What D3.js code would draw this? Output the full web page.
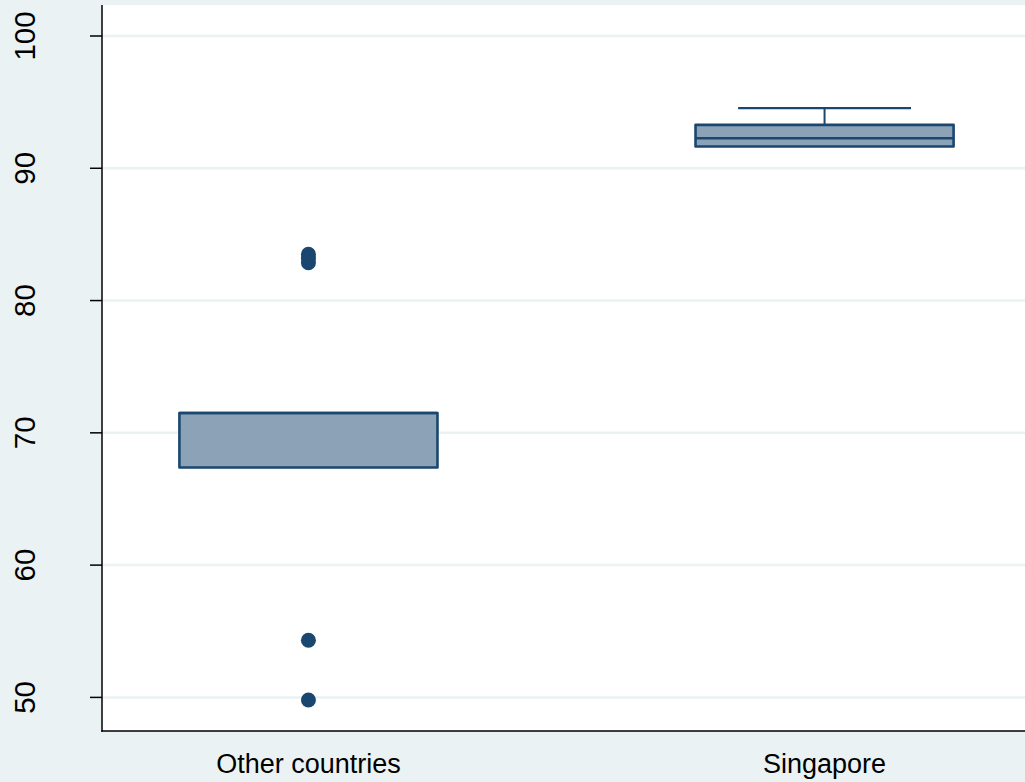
<!DOCTYPE html>
<html>
<head>
<meta charset="utf-8">
<script src="https://cdn.jsdelivr.net/npm/d3@7"></script>
<style>
  html, body { margin: 0; padding: 0; background: #EAF2F3; }
  svg { display: block; }
  text { font-family: "Liberation Sans", Arial, sans-serif; fill: #000; }
</style>
</head>
<body>
<svg id="chart" width="1025" height="782"></svg>
<script>
// Box-plot summary per group
const categories = ["Other countries", "Singapore"];
const q1Values = [67.38, 91.65];
const medianValues = [71.5, 92.27];
const q3Values = [71.5, 93.28];
const lowerAdjacent = [67.38, 91.65];
const upperAdjacent = [71.5, 94.54];
// Points beyond the adjacent values
const outlierGroups = ["Other countries", "Other countries", "Other countries", "Other countries", "Other countries"];
const outlierValues = [83.5, 83.2, 82.86, 54.32, 49.8];
const yTicks = [50, 60, 70, 80, 90, 100];

const W = 1025, H = 782;
const plot = { left: 102, right: 1025, top: 5, bottom: 731 };

const svg = d3.select("#chart");

const y = d3.scaleLinear().domain([50, 100]).range([697.4, 36]);
const x = d3.scalePoint().domain(categories).range([102, 1031]).padding(0.4);
const step = x.step();
const boxW = step * 0.5;
const capW = boxW * 0.67;

const navy = "#1A476F";
const fill = "#8CA2B7";

// white plot region
svg.append("rect")
  .attr("x", plot.left).attr("y", plot.top)
  .attr("width", plot.right - plot.left).attr("height", plot.bottom - plot.top)
  .attr("fill", "#fff");

// horizontal grid
svg.append("g").selectAll("line").data(yTicks).join("line")
  .attr("x1", plot.left).attr("x2", plot.right)
  .attr("y1", d => y(d)).attr("y2", d => y(d))
  .attr("stroke", "#EAF2F3").attr("stroke-width", 2.5);

const groups = categories.map((c, i) => ({
  cat: c, q1: q1Values[i], med: medianValues[i], q3: q3Values[i],
  lo: lowerAdjacent[i], hi: upperAdjacent[i]
}));

const g = svg.append("g");

// whiskers and caps
groups.forEach(d => {
  const cx = x(d.cat);
  if (d.hi > d.q3) {
    g.append("line").attr("x1", cx).attr("x2", cx)
      .attr("y1", y(d.q3)).attr("y2", y(d.hi))
      .attr("stroke", navy).attr("stroke-width", 2);
    g.append("line").attr("x1", cx - capW / 2).attr("x2", cx + capW / 2)
      .attr("y1", y(d.hi)).attr("y2", y(d.hi))
      .attr("stroke", navy).attr("stroke-width", 2.2);
  }
  if (d.lo < d.q1) {
    g.append("line").attr("x1", cx).attr("x2", cx)
      .attr("y1", y(d.q1)).attr("y2", y(d.lo))
      .attr("stroke", navy).attr("stroke-width", 2);
    g.append("line").attr("x1", cx - capW / 2).attr("x2", cx + capW / 2)
      .attr("y1", y(d.lo)).attr("y2", y(d.lo))
      .attr("stroke", navy).attr("stroke-width", 2.2);
  }
});

// boxes
g.selectAll("rect.box").data(groups).join("rect")
  .attr("class", "box")
  .attr("x", d => x(d.cat) - boxW / 2)
  .attr("y", d => y(d.q3))
  .attr("width", boxW)
  .attr("height", d => y(d.q1) - y(d.q3))
  .attr("fill", fill)
  .attr("stroke", navy).attr("stroke-width", 2.6)
  .attr("stroke-linejoin", "round");

// medians
g.selectAll("line.med").data(groups).join("line")
  .attr("class", "med")
  .attr("x1", d => x(d.cat) - boxW / 2).attr("x2", d => x(d.cat) + boxW / 2)
  .attr("y1", d => y(d.med)).attr("y2", d => y(d.med))
  .attr("stroke", navy).attr("stroke-width", 2.6);

// outliers
g.selectAll("circle").data(outlierValues.map((v, i) => ({ v, cat: outlierGroups[i] }))).join("circle")
  .attr("cx", d => x(d.cat)).attr("cy", d => y(d.v))
  .attr("r", 7.5).attr("fill", navy);

// axes lines
svg.append("line").attr("x1", plot.left).attr("x2", plot.left)
  .attr("y1", plot.top).attr("y2", plot.bottom + 0.75)
  .attr("stroke", "#000").attr("stroke-width", 1.5);
svg.append("line").attr("x1", plot.left - 0.75).attr("x2", plot.right)
  .attr("y1", plot.bottom).attr("y2", plot.bottom)
  .attr("stroke", "#000").attr("stroke-width", 1.5);

// y ticks and rotated labels
const yAxis = svg.append("g");
yAxis.selectAll("line").data(yTicks).join("line")
  .attr("x1", 90).attr("x2", plot.left)
  .attr("y1", d => y(d)).attr("y2", d => y(d))
  .attr("stroke", "#000").attr("stroke-width", 1.5);
yAxis.selectAll("text").data(yTicks).join("text")
  .attr("transform", d => `translate(34.5,${y(d)}) rotate(-90)`)
  .attr("text-anchor", "middle")
  .attr("font-size", 29.5)
  .text(d => d);

// category labels
svg.append("g").selectAll("text").data(categories).join("text")
  .attr("x", d => x(d)).attr("y", 773)
  .attr("text-anchor", "middle")
  .attr("font-size", 27)
  .text(d => d);
</script>
</body>
</html>
